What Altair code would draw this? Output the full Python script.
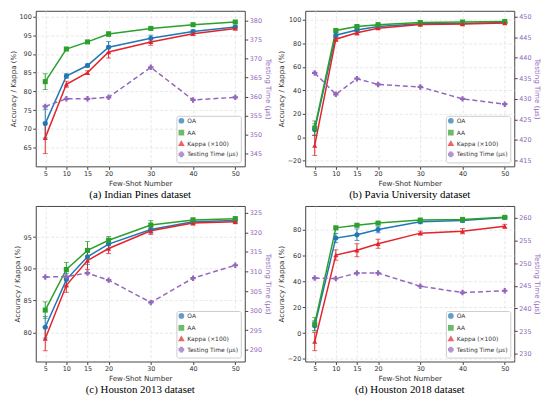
import altair as alt
import pandas as pd

XS = [5, 10, 15, 20, 30, 40, 50]
SERIES = ["OA", "AA", "Kappa (×100)", "Testing Time (μs)"]
COLORS = ["#1f77b4", "#2ca02c", "#e3242b", "#9467bd"]
SHAPES = ["circle", "square", "triangle-up", "cross"]

# (a) Indian Pines
a_oa = [71.4, 84.1, 86.9, 91.8, 94.2, 96.0, 97.2]
a_oa_err = [3.8, 0.6, 0.4, 1.5, 0.8, 0.4, 0.3]
a_aa = [82.6, 91.3, 93.2, 95.3, 96.8, 97.8, 98.5]
a_aa_err = [2.1, 0.3, 0.3, 0.6, 0.3, 0.3, 0.3]
a_kappa = [67.6, 81.9, 85.0, 90.5, 93.2, 95.4, 96.8]
a_kappa_err = [4.2, 0.8, 0.5, 1.6, 0.9, 0.5, 0.4]
a_time = [357.4, 359.4, 359.4, 359.8, 367.7, 359.1, 359.8]

# (b) Pavia University
b_oa = [6.5, 87.0, 91.5, 94.5, 96.8, 97.0, 97.8]
b_oa_err = [5.0, 2.0, 1.5, 1.0, 0.5, 0.5, 0.5]
b_aa = [7.9, 91.0, 94.4, 96.0, 97.8, 98.2, 98.7]
b_aa_err = [6.0, 1.0, 0.6, 0.5, 0.4, 0.4, 0.3]
b_kappa = [-7.0, 83.6, 89.1, 93.0, 96.1, 96.6, 97.3]
b_kappa_err = [8.5, 2.0, 2.0, 1.0, 0.7, 0.7, 0.5]
b_time = [436.3, 431.1, 434.9, 433.5, 432.9, 430.0, 428.7]

# (c) Houston 2013
c_oa = [80.8, 88.3, 91.9, 93.9, 96.2, 97.4, 97.6]
c_oa_err = [1.7, 1.0, 1.2, 0.7, 0.6, 0.3, 0.3]
c_aa = [83.5, 89.9, 92.9, 94.5, 96.9, 97.7, 97.9]
c_aa_err = [1.3, 1.1, 1.4, 0.6, 0.7, 0.3, 0.3]
c_kappa = [79.0, 87.4, 91.3, 93.2, 96.0, 97.2, 97.4]
c_kappa_err = [1.9, 1.1, 1.4, 0.8, 0.6, 0.3, 0.3]
c_time = [308.6, 308.7, 309.6, 307.8, 302.1, 308.3, 311.6]

# (d) Houston 2018
d_oa = [5.6, 73.4, 76.0, 80.0, 86.0, 87.0, 89.3]
d_oa_err = [4.0, 3.5, 4.5, 2.5, 1.5, 1.5, 0.8]
d_aa = [7.0, 81.3, 83.3, 85.0, 87.3, 87.8, 89.4]
d_aa_err = [5.0, 1.2, 1.0, 1.0, 0.8, 1.0, 0.8]
d_kappa = [-6.6, 60.3, 64.0, 69.0, 77.2, 78.7, 82.5]
d_kappa_err = [7.0, 4.0, 5.0, 3.5, 1.5, 2.0, 1.5]
d_time = [246.7, 246.6, 247.8, 247.8, 244.9, 243.5, 243.9]

PANELS = {
    "a": ("(a) Indian Pines dataset", [(a_oa, a_oa_err), (a_aa, a_aa_err), (a_kappa, a_kappa_err)], a_time,
          [60, 101.5], [65, 70, 75, 80, 85, 90, 95, 100], [341.6, 382.6], [345, 350, 355, 360, 365, 370, 375, 380]),
    "b": ("(b) Pavia University dataset", [(b_oa, b_oa_err), (b_aa, b_aa_err), (b_kappa, b_kappa_err)], b_time,
          [-24.8, 107.8], [-20, 0, 20, 40, 60, 80, 100], [413.6, 451.4], [415, 420, 425, 430, 435, 440, 445, 450]),
    "c": ("(c) Houston 2013 dataset", [(c_oa, c_oa_err), (c_aa, c_aa_err), (c_kappa, c_kappa_err)], c_time,
          [75.4, 99.9], [80, 85, 90, 95], [287.0, 326.75], [290, 295, 300, 305, 310, 315, 320, 325]),
    "d": ("(d) Houston 2018 dataset", [(d_oa, d_oa_err), (d_aa, d_aa_err), (d_kappa, d_kappa_err)], d_time,
          [-22, 98.2], [-20, 0, 20, 40, 60, 80], [228.3, 262.6], [230, 235, 240, 245, 250, 255, 260]),
}

W, H = 211, 157
PURPLE = "#9467bd"


def panel(key):
    caption, acc_series, times, ldom, lticks, rdom, rticks = PANELS[key]
    rows = []
    for name, (vals, errs) in zip(SERIES[:3], acc_series):
        for x, v, e in zip(XS, vals, errs):
            rows.append({"x": x, "series": name, "v": v, "lo": v - e, "hi": v + e})
    acc = pd.DataFrame(rows)
    tdf = pd.DataFrame({"x": XS, "series": SERIES[3], "t": times})

    xenc = alt.X("x:Q", scale=alt.Scale(domain=[2.75, 52.25], nice=False, zero=False),
                 axis=alt.Axis(values=XS, title="Few-Shot Number", grid=True))
    color = alt.Color("series:N", scale=alt.Scale(domain=SERIES, range=COLORS),
                      legend=alt.Legend(title=None, orient="bottom-right", fillColor="white",
                                        strokeColor="#cccccc", padding=2, offset=4,
                                        labelFontSize=6, symbolSize=18, rowPadding=0,
                                        labelLimit=120, cornerRadius=2, labelOffset=3))
    shape = alt.Shape("series:N", scale=alt.Scale(domain=SERIES, range=SHAPES), legend=None)
    lscale = alt.Scale(domain=ldom, nice=False, zero=False)
    laxis = alt.Axis(values=lticks, title="Accuracy / Kappa (%)", grid=True)
    ly = alt.Y("v:Q", scale=lscale, axis=laxis)

    base = alt.Chart(acc)
    lines = base.mark_line(strokeWidth=1.5).encode(x=xenc, y=ly, color=color)
    errs = base.mark_errorbar(ticks={"size": 5}, thickness=1).encode(
        x=xenc, y=alt.Y("lo:Q", scale=lscale, axis=laxis), y2="hi:Q", color=color)
    pts = base.mark_point(filled=True, size=26, opacity=1).encode(x=xenc, y=ly, color=color, shape=shape)
    left = alt.layer(lines, errs, pts)

    rscale = alt.Scale(domain=rdom, nice=False, zero=False)
    raxis = alt.Axis(values=rticks, title="Testing Time (μs)", orient="right", grid=False,
                     labelColor=PURPLE, titleColor=PURPLE, format="d")
    ry = alt.Y("t:Q", scale=rscale, axis=raxis)
    tb = alt.Chart(tdf)
    tline = tb.mark_line(strokeWidth=1.5, strokeDash=[5, 3]).encode(x=xenc, y=ry, color=color)
    tpts = tb.mark_point(filled=True, size=30, opacity=1).encode(x=xenc, y=ry, color=color, shape=shape)
    right = alt.layer(tline, tpts)

    return alt.layer(left, right).resolve_scale(y="independent").properties(
        width=W, height=H,
        title=alt.TitleParams(caption, orient="bottom", font="Liberation Serif", fontSize=11,
                              fontWeight="normal", color="#000000", offset=3))


row1 = alt.hconcat(panel("a"), panel("b"), spacing=4).resolve_scale(color="independent", shape="independent")
row2 = alt.hconcat(panel("c"), panel("d"), spacing=4).resolve_scale(color="independent", shape="independent")

chart = alt.vconcat(row1, row2, spacing=4).resolve_scale(
    color="independent", shape="independent"
).properties(padding={"left": 0, "top": 0, "right": 0, "bottom": 0}).configure_view(
    stroke="#444444", strokeWidth=1
).configure_axis(
    labelFont="DejaVu Sans", titleFont="DejaVu Sans", labelFontSize=6.5, titleFontSize=7.2,
    labelColor="#333333", titleColor="#333333", titleFontWeight="normal",
    domain=False, tickColor="#444444", tickSize=3, labelPadding=1.5, titlePadding=2,
    gridColor="#dddddd", gridDash=[3, 2], gridWidth=0.7,
).configure_legend(labelFont="DejaVu Sans", labelColor="#333333")

chart.save("out.html", embed_options={"renderer": "svg", "actions": False})
